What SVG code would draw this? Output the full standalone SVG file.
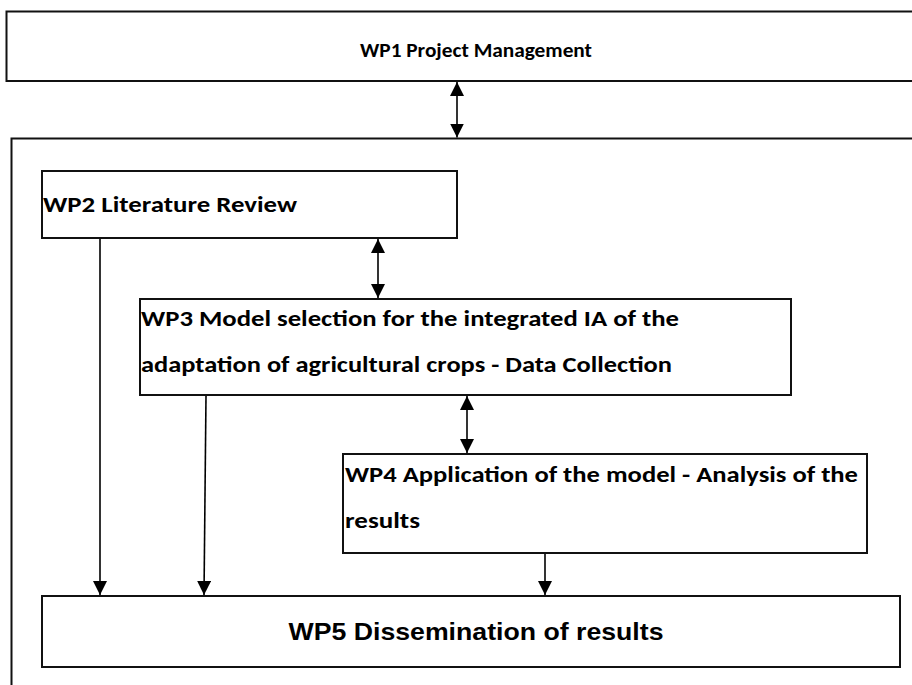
<svg xmlns="http://www.w3.org/2000/svg" width="912" height="685" viewBox="0 0 912 685">
  <style>
    .box { fill: #ffffff; stroke: #111111; stroke-width: 2; }
    .frame { fill: none; stroke: #111111; stroke-width: 2; }
    .link { fill: none; stroke: #000000; stroke-width: 1.6; }
    .lbl { font-family: Carlito, Lato, "Liberation Sans", sans-serif; font-weight: bold; fill: #000000; }
    .lbl5 { font-family: "Liberation Sans Narrow", "Liberation Sans", Arial, sans-serif; font-weight: bold; fill: #000000; }
  </style>
  <defs>
    <marker id="head" viewBox="0 0 14 14" refX="14" refY="7" markerWidth="14" markerHeight="14" markerUnits="userSpaceOnUse" orient="auto-start-reverse">
      <path d="M0,0 L14,7 L0,14 Z" fill="#000000"/>
    </marker>
  </defs>

  <rect width="912" height="685" fill="#ffffff"/>

  <!-- work package WP1 -->
  <g id="wp1">
    <rect class="box" x="6.5" y="11.5" width="930" height="69.5"/>
    <text class="lbl" x="476" y="57" font-size="20" text-anchor="middle" textLength="232" lengthAdjust="spacingAndGlyphs">WP1 Project Management</text>
  </g>

  <!-- enclosing frame for WP2-WP5 -->
  <g id="frame">
    <path class="frame" d="M11.5,700 V138.5 H930"/>
  </g>

  <!-- work package WP2 -->
  <g id="wp2">
    <rect class="box" x="42" y="171" width="415" height="67"/>
    <text class="lbl" x="43" y="212" font-size="22.5" textLength="254" lengthAdjust="spacingAndGlyphs">WP2 Literature Review</text>
  </g>

  <!-- work package WP3 -->
  <g id="wp3">
    <rect class="box" x="140" y="299" width="651" height="96"/>
    <text class="lbl" x="141" y="325.5" font-size="22" textLength="538" lengthAdjust="spacingAndGlyphs">WP3 Model selection for the integrated IA of the</text>
    <text class="lbl" x="141" y="372" font-size="22" textLength="531" lengthAdjust="spacingAndGlyphs">adaptation of agricultural crops - Data Collection</text>
  </g>

  <!-- work package WP4 -->
  <g id="wp4">
    <rect class="box" x="343" y="454" width="524" height="99"/>
    <text class="lbl" x="345" y="482" font-size="22" textLength="513" lengthAdjust="spacingAndGlyphs">WP4 Application of the model - Analysis of the</text>
    <text class="lbl" x="345" y="528" font-size="22" textLength="75" lengthAdjust="spacingAndGlyphs">results</text>
  </g>

  <!-- work package WP5 -->
  <g id="wp5">
    <rect class="box" x="42" y="596" width="858" height="71"/>
    <text class="lbl5" x="476" y="640" font-size="24" text-anchor="middle" textLength="375" lengthAdjust="spacingAndGlyphs">WP5 Dissemination of results</text>
  </g>

  <!-- connectors -->
  <g id="connectors">
    <line class="link" x1="457" y1="82" x2="457" y2="137.5" marker-start="url(#head)" marker-end="url(#head)"/>
    <line class="link" x1="378" y1="239" x2="378" y2="298" marker-start="url(#head)" marker-end="url(#head)"/>
    <line class="link" x1="467" y1="396" x2="467" y2="453" marker-start="url(#head)" marker-end="url(#head)"/>
    <line class="link" x1="100" y1="239" x2="100" y2="595" marker-end="url(#head)"/>
    <line class="link" x1="206" y1="396" x2="204" y2="595" marker-end="url(#head)"/>
    <line class="link" x1="545" y1="554" x2="545" y2="595" marker-end="url(#head)"/>
  </g>
</svg>
